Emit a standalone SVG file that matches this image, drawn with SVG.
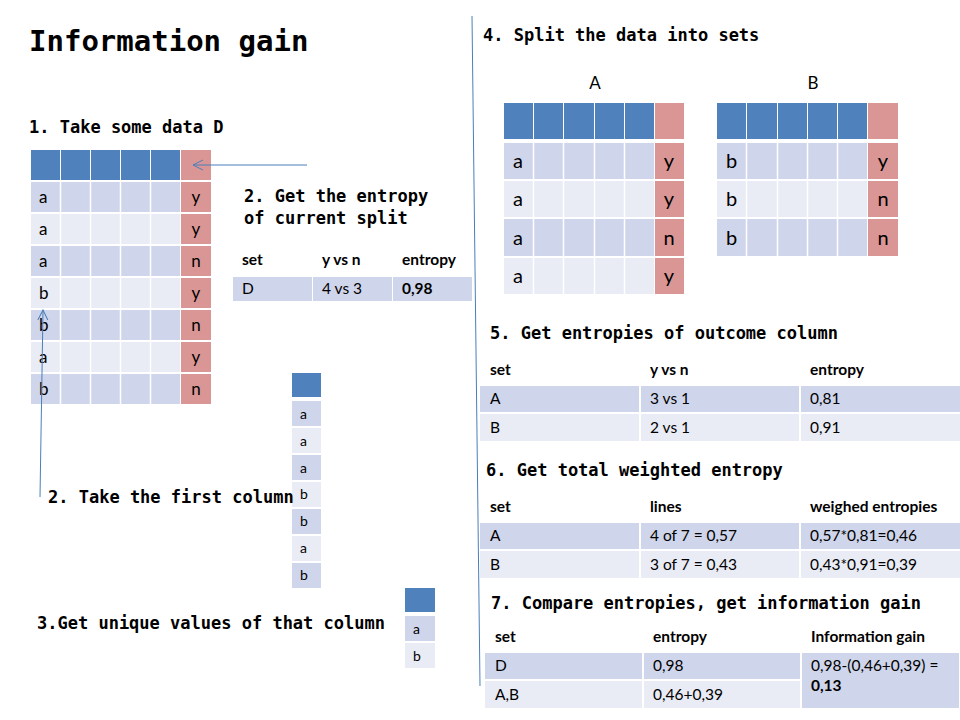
<svg xmlns="http://www.w3.org/2000/svg" width="960" height="720" viewBox="0 0 960 720">
<defs>
<style>
.bg{fill:#FFFFFF}
.hb{fill:#4F81BD}
.hr{fill:#D99694}
.rd{fill:#CFD5EA}
.rl{fill:#E9EBF5}
.rr{fill:#D99694}
.mono{font-family:"DejaVu Sans Mono","Liberation Mono",monospace;font-weight:bold;fill:#000}
.title{font-family:"DejaVu Sans Mono","Liberation Mono",monospace;font-weight:bold;font-size:29px;fill:#000}
.lbl{font-size:17px}
.cell{font-family:Lato,"Open Sans","Liberation Sans",sans-serif;fill:#000}
.c17{font-size:17px}
.c20{font-size:20px}
.c13{font-size:14px}
.tx{font-family:Lato,"Open Sans","Liberation Sans",sans-serif;font-size:15.5px;fill:#000}
.th{font-weight:bold}
.mid{text-anchor:middle}
.conn{stroke:#4A7EBB;stroke-width:1;fill:none}
</style>
<marker id="arr" viewBox="0 0 12 12" refX="11" refY="6" markerWidth="12" markerHeight="12" markerUnits="userSpaceOnUse" orient="auto">
<path d="M1,1 L11,6 L1,11" fill="none" stroke="#4A7EBB" stroke-width="1"/>
</marker>
</defs>
<rect class="bg" x="0" y="0" width="960" height="720"/>

<g id="title"><text class="title" x="29" y="51">Information gain</text></g>

<g id="step1-label"><text class="mono lbl" x="29" y="133">1. Take some data D</text></g>

<g id="tableD">
<g>
<rect class="hb" x="31" y="150" width="29" height="30"/>
<rect class="hb" x="61" y="150" width="29" height="30"/>
<rect class="hb" x="91" y="150" width="29" height="30"/>
<rect class="hb" x="121" y="150" width="29" height="30"/>
<rect class="hb" x="151" y="150" width="29" height="30"/>
<rect class="hr" x="181" y="150" width="30" height="30"/>
</g>
<g id="D-r1"><rect class="rd" x="31" y="182" width="149" height="30"/><rect class="rr" x="181" y="182" width="30" height="30"/></g>
<g id="D-r2"><rect class="rl" x="31" y="214" width="149" height="30"/><rect class="rr" x="181" y="214" width="30" height="30"/></g>
<g id="D-r3"><rect class="rd" x="31" y="246" width="149" height="30"/><rect class="rr" x="181" y="246" width="30" height="30"/></g>
<g id="D-r4"><rect class="rl" x="31" y="278" width="149" height="30"/><rect class="rr" x="181" y="278" width="30" height="30"/></g>
<g id="D-r5"><rect class="rd" x="31" y="310" width="149" height="30"/><rect class="rr" x="181" y="310" width="30" height="30"/></g>
<g id="D-r6"><rect class="rl" x="31" y="342" width="149" height="30"/><rect class="rr" x="181" y="342" width="30" height="30"/></g>
<g id="D-r7"><rect class="rd" x="31" y="374" width="149" height="30"/><rect class="rr" x="181" y="374" width="30" height="30"/></g>
<g stroke="#FFFFFF" stroke-width="1.5">
<line x1="60.5" y1="182" x2="60.5" y2="404"/>
<line x1="90.5" y1="182" x2="90.5" y2="404"/>
<line x1="120.5" y1="182" x2="120.5" y2="404"/>
<line x1="150.5" y1="182" x2="150.5" y2="404"/>
</g>
<g class="cell c17">
<text x="39" y="203">a</text><text x="39" y="235">a</text><text x="39" y="267">a</text><text x="39" y="299">b</text><text x="39" y="331">b</text><text x="39" y="363">a</text><text x="39" y="395">b</text>
</g>
<g class="cell c17 mid">
<text x="196" y="203">y</text><text x="196" y="235">y</text><text x="196" y="267">n</text><text x="196" y="299">y</text><text x="196" y="331">n</text><text x="196" y="363">y</text><text x="196" y="395">n</text>
</g>
</g>

<g id="step2-label">
<text class="mono lbl" x="244" y="202">2. Get the entropy</text>
<text class="mono lbl" x="244" y="224">of current split</text>
</g>

<g id="entropyD">
<text class="tx th" x="242" y="265">set</text>
<text class="tx th" x="322" y="265">y vs n</text>
<text class="tx th" x="402" y="265">entropy</text>
<rect class="rd" x="233" y="277" width="79" height="24"/>
<rect class="rd" x="313" y="277" width="79" height="24"/>
<rect class="rd" x="393" y="277" width="79" height="24"/>
<text class="tx" x="242" y="294">D</text>
<text class="tx" x="322" y="294">4 vs 3</text>
<text class="tx th" x="402" y="294">0,98</text>
</g>

<g id="firstColumn">
<rect class="hb" x="292" y="373" width="29" height="24"/>
<rect class="rd" x="292" y="401" width="29" height="25"/>
<rect class="rl" x="292" y="428" width="29" height="25"/>
<rect class="rd" x="292" y="455" width="29" height="25"/>
<rect class="rl" x="292" y="482" width="29" height="25"/>
<rect class="rd" x="292" y="509" width="29" height="25"/>
<rect class="rl" x="292" y="536" width="29" height="25"/>
<rect class="rd" x="292" y="563" width="29" height="25"/>
<g class="cell c13">
<text x="300" y="419">a</text><text x="300" y="446">a</text><text x="300" y="473">a</text><text x="300" y="499">b</text><text x="300" y="526">b</text><text x="300" y="553">a</text><text x="300" y="580">b</text>
</g>
</g>

<g id="step2b-label"><text class="mono lbl" x="48" y="503">2. Take the first column</text></g>

<g id="step3-label"><text class="mono lbl" x="37" y="629">3.Get unique values of that column</text></g>

<g id="uniqueValues">
<rect class="hb" x="405" y="588" width="30" height="24"/>
<rect class="rd" x="405" y="616" width="30" height="25"/>
<rect class="rl" x="405" y="643" width="30" height="25"/>
<text class="cell c13" x="413" y="634">a</text>
<text class="cell c13" x="413" y="661">b</text>
</g>

<g id="step4-label"><text class="mono lbl" x="483" y="41">4. Split the data into sets</text></g>

<g id="tableA">
<text class="cell c17 mid" x="595" y="89">A</text>
<rect class="hb" x="504" y="103" width="29" height="36"/>
<rect class="hb" x="534" y="103" width="29" height="36"/>
<rect class="hb" x="564" y="103" width="30" height="36"/>
<rect class="hb" x="595" y="103" width="29" height="36"/>
<rect class="hb" x="625" y="103" width="29" height="36"/>
<rect class="hr" x="655" y="103" width="29" height="36"/>
<rect class="rd" x="504" y="143" width="150" height="36"/><rect class="rr" x="655" y="143" width="29" height="36"/>
<rect class="rl" x="504" y="181" width="150" height="36"/><rect class="rr" x="655" y="181" width="29" height="36"/>
<rect class="rd" x="504" y="219" width="150" height="37"/><rect class="rr" x="655" y="219" width="29" height="37"/>
<rect class="rl" x="504" y="258" width="150" height="36"/><rect class="rr" x="655" y="258" width="29" height="36"/>
<g stroke="#FFFFFF" stroke-width="1.5">
<line x1="533.5" y1="143" x2="533.5" y2="294"/>
<line x1="563.5" y1="143" x2="563.5" y2="294"/>
<line x1="594.5" y1="143" x2="594.5" y2="294"/>
<line x1="624.5" y1="143" x2="624.5" y2="294"/>
</g>
<g class="cell c20">
<text x="513" y="168">a</text><text x="513" y="206">a</text><text x="513" y="245">a</text><text x="513" y="283">a</text>
</g>
<g class="cell c20 mid">
<text x="669" y="168">y</text><text x="669" y="206">y</text><text x="669" y="245">n</text><text x="669" y="283">y</text>
</g>
</g>

<g id="tableB">
<text class="cell c17 mid" x="813" y="89">B</text>
<rect class="hb" x="717" y="103" width="29" height="36"/>
<rect class="hb" x="747" y="103" width="30" height="36"/>
<rect class="hb" x="778" y="103" width="29" height="36"/>
<rect class="hb" x="808" y="103" width="29" height="36"/>
<rect class="hb" x="838" y="103" width="29" height="36"/>
<rect class="hr" x="868" y="103" width="30" height="36"/>
<rect class="rd" x="717" y="143" width="150" height="36"/><rect class="rr" x="868" y="143" width="30" height="36"/>
<rect class="rl" x="717" y="181" width="150" height="36"/><rect class="rr" x="868" y="181" width="30" height="36"/>
<rect class="rd" x="717" y="219" width="150" height="37"/><rect class="rr" x="868" y="219" width="30" height="37"/>
<g stroke="#FFFFFF" stroke-width="1.5">
<line x1="746.5" y1="143" x2="746.5" y2="256"/>
<line x1="777.5" y1="143" x2="777.5" y2="256"/>
<line x1="807.5" y1="143" x2="807.5" y2="256"/>
<line x1="837.5" y1="143" x2="837.5" y2="256"/>
</g>
<g class="cell c20">
<text x="726" y="168">b</text><text x="726" y="206">b</text><text x="726" y="245">b</text>
</g>
<g class="cell c20 mid">
<text x="883" y="168">y</text><text x="883" y="206">n</text><text x="883" y="245">n</text>
</g>
</g>

<g id="step5-label"><text class="mono lbl" x="490" y="339">5. Get entropies of outcome column</text></g>
<g id="table5">
<text class="tx th" x="490" y="375">set</text>
<text class="tx th" x="650" y="375">y vs n</text>
<text class="tx th" x="810" y="375">entropy</text>
<rect class="rd" x="480" y="386" width="159" height="26"/>
<rect class="rd" x="641" y="386" width="158" height="26"/>
<rect class="rd" x="801" y="386" width="159" height="26"/>
<rect class="rl" x="480" y="414" width="159" height="27"/>
<rect class="rl" x="641" y="414" width="158" height="27"/>
<rect class="rl" x="801" y="414" width="159" height="27"/>
<text class="tx" x="490" y="404">A</text><text class="tx" x="650" y="404">3 vs 1</text><text class="tx" x="810" y="404">0,81</text>
<text class="tx" x="490" y="433">B</text><text class="tx" x="650" y="433">2 vs 1</text><text class="tx" x="810" y="433">0,91</text>
</g>

<g id="step6-label"><text class="mono lbl" x="486" y="476">6. Get total weighted entropy</text></g>
<g id="table6">
<text class="tx th" x="490" y="512">set</text>
<text class="tx th" x="650" y="512">lines</text>
<text class="tx th" x="810" y="512">weighed entropies</text>
<rect class="rd" x="480" y="523" width="159" height="26"/>
<rect class="rd" x="641" y="523" width="158" height="26"/>
<rect class="rd" x="801" y="523" width="159" height="26"/>
<rect class="rl" x="480" y="551" width="159" height="27"/>
<rect class="rl" x="641" y="551" width="158" height="27"/>
<rect class="rl" x="801" y="551" width="159" height="27"/>
<text class="tx" x="490" y="541">A</text><text class="tx" x="650" y="541">4 of 7 = 0,57</text><text class="tx" x="810" y="541">0,57*0,81=0,46</text>
<text class="tx" x="490" y="570">B</text><text class="tx" x="650" y="570">3 of 7 = 0,43</text><text class="tx" x="810" y="570">0,43*0,91=0,39</text>
</g>

<g id="step7-label"><text class="mono lbl" x="491" y="609">7. Compare entropies, get information gain</text></g>
<g id="table7">
<text class="tx th" x="495" y="642">set</text>
<text class="tx th" x="653" y="642">entropy</text>
<text class="tx th" x="811" y="642">Information gain</text>
<rect class="rd" x="485" y="653" width="157" height="26"/>
<rect class="rd" x="644" y="653" width="156" height="26"/>
<rect class="rl" x="485" y="681" width="157" height="27"/>
<rect class="rl" x="644" y="681" width="156" height="27"/>
<rect class="rd" x="802" y="653" width="157" height="55"/>
<text class="tx" x="495" y="671">D</text><text class="tx" x="653" y="671">0,98</text>
<text class="tx" x="495" y="700">A,B</text><text class="tx" x="653" y="700">0,46+0,39</text>
<text class="tx" x="811" y="671">0,98-(0,46+0,39) =</text>
<text class="tx th" x="811" y="691">0,13</text>
</g>

<g id="connectors">
<line class="conn" x1="307" y1="165" x2="193" y2="165" marker-end="url(#arr)"/>
<line class="conn" x1="40" y1="497" x2="43" y2="310" marker-end="url(#arr)"/>
<line class="conn" x1="472" y1="16" x2="480" y2="686"/>
</g>
</svg>
